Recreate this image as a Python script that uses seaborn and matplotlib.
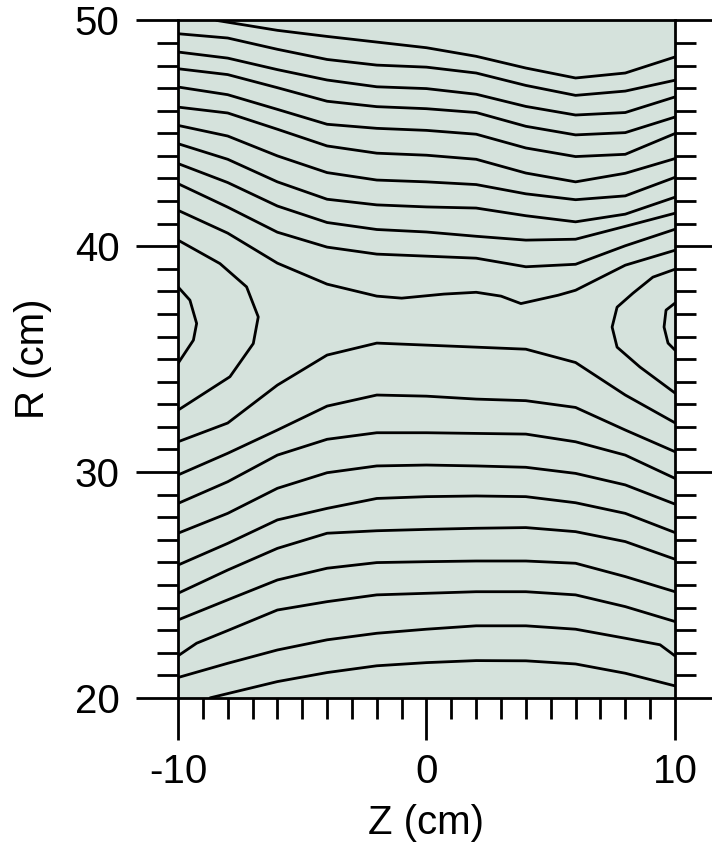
import matplotlib
matplotlib.use('Agg')
import numpy as np
import pandas as pd
import seaborn as sns
import matplotlib.pyplot as plt
from matplotlib.ticker import MultipleLocator

sns.set_theme(style="ticks")
plt.rcParams['font.family'] = ['Liberation Sans', 'DejaVu Sans']

# contour lines, R (cm) at these Z (cm)
z_grid = [-10, -8, -6, -4, -2, 0, 2, 4, 6, 8, 10]

t0_z = [-8.45, -6, -4, -2, 0, 2, 4, 6, 8, 10]
t0_r = [50.0, 49.56, 49.29, 49.04, 48.79, 48.41, 47.89, 47.45, 47.67, 48.38]
t1 = [49.41, 49.22, 48.72, 48.27, 48.02, 47.93, 47.67, 47.12, 46.68, 46.87, 47.35]
t2 = [48.60, 48.33, 47.82, 47.36, 47.06, 46.98, 46.73, 46.19, 45.81, 45.92, 46.61]
t3 = [47.86, 47.60, 47.02, 46.42, 46.18, 46.09, 45.92, 45.31, 44.93, 45.03, 45.72]
t4 = [47.05, 46.71, 46.06, 45.40, 45.22, 45.13, 44.96, 44.35, 43.97, 44.07, 44.99]
t5 = [46.16, 45.90, 45.18, 44.44, 44.12, 44.03, 43.85, 43.24, 42.85, 43.23, 43.88]
t6 = [45.35, 44.88, 44.00, 43.26, 42.93, 42.85, 42.73, 42.32, 42.06, 42.23, 43.05]
t7 = [44.54, 43.85, 42.85, 42.08, 41.83, 41.74, 41.69, 41.35, 41.08, 41.42, 42.17]
t8 = [43.66, 42.82, 41.78, 41.05, 40.74, 40.63, 40.44, 40.27, 40.31, 40.88, 41.46]
t9 = [42.77, 41.73, 40.62, 39.96, 39.65, 39.56, 39.47, 39.09, 39.20, 40.02, 40.75]

# saddle line
s_z = [-10, -8, -6, -4, -2, -1, 0.7, 2, 3, 3.8, 5.3, 6, 8, 10]
s_r = [41.59, 40.58, 39.25, 38.32, 37.79, 37.70, 37.88, 37.96, 37.79, 37.46, 37.83, 38.05, 39.16, 39.82]

# closed loops at the left and right walls
lo_z = [-10, -8.31, -7.24, -6.77, -6.97, -7.91, -10]
lo_r = [40.27, 39.23, 38.20, 36.87, 35.69, 34.22, 32.74]
li_z = [-10, -9.52, -9.25, -9.38, -10]
li_r = [38.20, 37.61, 36.58, 35.84, 34.81]
ro_z = [10, 9.11, 8.31, 7.67, 7.47, 7.67, 8.59, 10]
ro_r = [38.98, 38.63, 37.92, 37.30, 36.42, 35.53, 34.65, 33.50]
ri_z = [10, 9.64, 9.56, 9.72, 10]
ri_r = [37.48, 37.17, 36.42, 35.71, 35.40]

m1 = [31.34, 32.17, 33.85, 35.18, 35.71, 35.62, 35.53, 35.44, 34.85, 33.41, 32.18]
b9 = [29.87, 30.83, 31.86, 32.92, 33.41, 33.36, 33.23, 33.16, 32.86, 31.86, 30.90]
b8 = [28.61, 29.57, 30.75, 31.45, 31.74, 31.74, 31.71, 31.68, 31.34, 30.75, 29.72]
b7 = [27.29, 28.17, 29.28, 29.97, 30.27, 30.31, 30.27, 30.21, 29.94, 29.43, 28.58]
b6 = [25.88, 26.84, 27.88, 28.39, 28.83, 28.91, 28.94, 28.91, 28.64, 28.17, 27.32]
b5 = [24.63, 25.66, 26.62, 27.29, 27.40, 27.46, 27.51, 27.54, 27.36, 26.92, 26.14]
b4 = [23.45, 24.34, 25.22, 25.74, 25.99, 26.03, 26.06, 26.06, 25.96, 25.37, 24.70]
b3_z = [-10, -9.25, -8, -6, -4, -2, 0, 2, 4, 6, 8, 10]
b3_r = [21.86, 22.42, 22.98, 23.89, 24.26, 24.56, 24.63, 24.70, 24.70, 24.56, 24.04, 23.38]
b2_z = [-10, -8, -6, -4, -2, 0, 2, 4, 6, 8, 9.4, 10]
b2_r = [20.90, 21.53, 22.12, 22.57, 22.86, 23.04, 23.19, 23.19, 23.04, 22.64, 22.35, 21.86]
b1_z = [-8.71, -6, -4, -2, 0, 2, 4, 6, 8, 10]
b1_r = [20.0, 20.72, 21.12, 21.42, 21.56, 21.65, 21.64, 21.50, 21.09, 20.53]

lines = {
    't0': (t0_z, t0_r), 't1': (z_grid, t1), 't2': (z_grid, t2), 't3': (z_grid, t3),
    't4': (z_grid, t4), 't5': (z_grid, t5), 't6': (z_grid, t6), 't7': (z_grid, t7),
    't8': (z_grid, t8), 't9': (z_grid, t9), 's': (s_z, s_r),
    'lo': (lo_z, lo_r), 'li': (li_z, li_r), 'ro': (ro_z, ro_r), 'ri': (ri_z, ri_r),
    'm1': (z_grid, m1), 'b9': (z_grid, b9), 'b8': (z_grid, b8), 'b7': (z_grid, b7),
    'b6': (z_grid, b6), 'b5': (z_grid, b5), 'b4': (z_grid, b4),
    'b3': (b3_z, b3_r), 'b2': (b2_z, b2_r), 'b1': (b1_z, b1_r),
}
rows = []
for name, (zs, rs) in lines.items():
    for z, r in zip(zs, rs):
        rows.append({'line': name, 'Z': z, 'R': r})
df = pd.DataFrame(rows)

fig = plt.figure(figsize=(7.12, 8.5), dpi=100)
ax = fig.add_axes([0.25, 0.179, 0.698, 0.797])
ax.set_facecolor('#d5e2dc')

sns.lineplot(data=df, x='Z', y='R', units='line', estimator=None, sort=False,
             color='black', linewidth=2.0, legend=False, ax=ax,
             solid_joinstyle='round', solid_capstyle='round')

ax.set_xlim(-10, 10)
ax.set_ylim(20, 50)
ax.set_xticks([-10, 0, 10])
ax.set_xticklabels(['-10', '0', '10'])
ax.set_yticks([20, 30, 40, 50])
ax.xaxis.set_minor_locator(MultipleLocator(1))
ax.yaxis.set_minor_locator(MultipleLocator(1))

for sp in ax.spines.values():
    sp.set_color('black')
    sp.set_linewidth(2)

ax.tick_params(which='major', direction='out', length=30, width=2, color='black',
               labelsize=29, labelcolor='black', left=True, right=True, bottom=True, top=False,
               labelright=False)
ax.tick_params(which='minor', direction='out', length=15, width=2, color='black',
               left=True, right=True, bottom=True, top=False)
ax.tick_params(axis='y', which='major', pad=12)
ax.tick_params(axis='x', which='major', pad=10)

ax.set_xlabel('Z (cm)', fontsize=29, labelpad=9, color='black')
ax.set_ylabel('R (cm)', fontsize=29, labelpad=16, color='black')
ax.grid(False)

fig.savefig('out.png', dpi=100)
